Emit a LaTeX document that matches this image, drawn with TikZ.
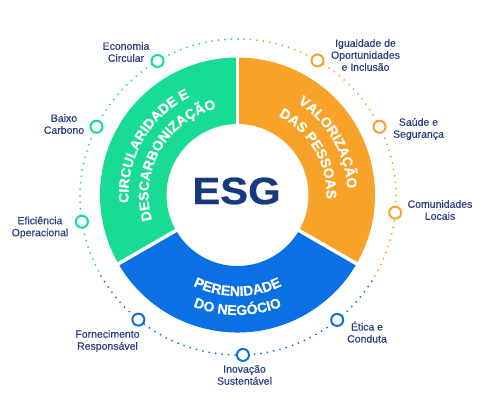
\documentclass[tikz,border=0pt]{standalone}
\usepackage{fontspec}
\setmainfont{Liberation Sans}
\newfontfamily\lblfont{Liberation Sans}[UprightFeatures={FakeBold=0.5}]
\newfontfamily\segfont{Liberation Sans}[BoldFeatures={FakeBold=0.6}]
\usetikzlibrary{calc,decorations.text}
\definecolor{esggreen}{RGB}{24,220,148}
\definecolor{esgorange}{RGB}{248,162,42}
\definecolor{esgblue}{RGB}{10,112,228}
\definecolor{esgnavy}{RGB}{24,58,124}
\definecolor{lblnavy}{RGB}{44,62,128}
\newcommand\segfmt{\segfont\fontsize{14}{14}\selectfont\bfseries\color{white}}
\begin{document}
\begin{tikzpicture}[x=1pt,y=1pt,
  lbl/.style={font=\lblfont\fontsize{10.5}{12}\selectfont, text=lblnavy, align=center, inner sep=0pt},
  dotline/.style={line width=2pt, line cap=round, dash pattern=on 0pt off 6.5pt},
  marker/.style={circle, draw=#1, line width=2pt, fill=white, minimum size=12pt, inner sep=0pt},
  sep/.style={white, line width=3.5pt}
]
\fill[white] (0,0) rectangle (500,413);
\useasboundingbox (0,0) rectangle (500,413);
\coordinate (C) at (237.5,218);
\coordinate (D) at (238,216);

% dotted outer circle
\draw[dotline, esggreen] ($(D)+(90:158)$) arc[start angle=90, end angle=210, radius=158];
\draw[dotline, esgblue] ($(D)+(210:158)$) arc[start angle=210, end angle=330, radius=158];
\draw[dotline, esgorange] ($(D)+(330:158)$) arc[start angle=330, end angle=450, radius=158];

% ring segments
\fill[esggreen] ($(C)+(90:137.5)$) arc[start angle=90,end angle=210,radius=137.5]
  -- ($(C)+(210:71)$) arc[start angle=210,end angle=90,radius=71] -- cycle;
\fill[esgblue] ($(C)+(210:137.5)$) arc[start angle=210,end angle=330,radius=137.5]
  -- ($(C)+(330:71)$) arc[start angle=330,end angle=210,radius=71] -- cycle;
\fill[esgorange] ($(C)+(-30:137.5)$) arc[start angle=-30,end angle=90,radius=137.5]
  -- ($(C)+(90:71)$) arc[start angle=90,end angle=-30,radius=71] -- cycle;
\foreach \a in {90,210,330} \draw[sep] ($(C)+(\a:65)$) -- ($(C)+(\a:143)$);

% segment labels
\path[decorate, decoration={text along path, text align=center, text={|\segfmt|CIRCULARIDADE E}}]
  ($(C)+(205:109)$) arc[start angle=205,end angle=95,radius=109];
\path[decorate, decoration={text along path, text align=center, text={|\segfmt|DESCARBONIZAÇÃO}}]
  ($(C)+(215:89)$) arc[start angle=215,end angle=85,radius=89];
\path[decorate, decoration={text along path, text align=center, text={|\segfmt|VALORIZAÇÃO}}]
  ($(C)+(85:110)$) arc[start angle=85,end angle=-25,radius=110];
\path[decorate, decoration={text along path, text align=center, text={|\segfmt|DAS PESSOAS}}]
  ($(C)+(90:89)$) arc[start angle=90,end angle=-30,radius=89];
\path[decorate, decoration={text along path, text align=center, text={|\segfmt|PERENIDADE}}]
  ($(C)+(215:101)$) arc[start angle=215,end angle=325,radius=101];
\path[decorate, decoration={text along path, text align=center, text={|\segfmt|DO NEGÓCIO}}]
  ($(C)+(220:120)$) arc[start angle=220,end angle=320,radius=120];

% centre
\node[font=\segfont\fontsize{38}{38}\selectfont\bfseries, text=esgnavy, xscale=1.1, inner sep=0pt] (esg) at (236.5,222) {ESG};

% markers
\node[marker=esggreen] (m1) at ($(D)+(120.6:158)$) {};
\node[marker=esggreen] (m2) at ($(D)+(153.6:158)$) {};
\node[marker=esggreen] (m3) at ($(D)+(189:158)$) {};
\node[marker=esgblue] (m4) at ($(D)+(230.9:158)$) {};
\node[marker=esgblue] (m5) at ($(D)+(271.8:158)$) {};
\node[marker=esgblue] (m6) at ($(D)+(308.9:158)$) {};
\node[marker=esgorange] (m7) at ($(D)+(354.3:158)$) {};
\node[marker=esgorange] (m8) at ($(D)+(26.4:158)$) {};
\node[marker=esgorange] (m9) at ($(D)+(59.8:158)$) {};

% outer labels
\node[lbl] (l1) at (126,361) {Economia\\Circular};
\node[lbl] (l2) at (64,289) {Baixo\\Carbono};
\node[lbl] (l3) at (40,185.5) {Eficiência\\Operacional};
\node[lbl] (l4) at (107.5,72) {Fornecimento\\Responsável};
\node[lbl] (l5) at (244.5,38) {Inovação\\Sustentável};
\node[lbl] (l6) at (367,81) {Ética e\\Conduta};
\node[lbl] (l7) at (440,203) {Comunidades\\Locais};
\node[lbl] (l8) at (418.5,284) {Saúde e\\Segurança};
\node[lbl] (l9) at (365.5,358) {Igualdade de\\Oportunidades\\e Inclusão};
\end{tikzpicture}
\end{document}
